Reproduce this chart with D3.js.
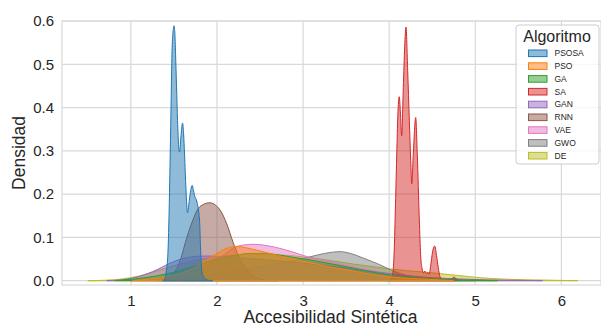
<!DOCTYPE html>
<html>
<head>
<meta charset="utf-8">
<script src="https://cdn.jsdelivr.net/npm/d3@7"></script>
<style>
  html, body { margin: 0; padding: 0; background: #fff; }
  svg { display: block; font-family: "Liberation Sans", Arial, sans-serif; }
</style>
</head>
<body>
<svg id="chart" width="601" height="327"></svg>
<script>
// ---- Data ----
const algorithms = ["PSOSA", "PSO", "GA", "SA", "GAN", "RNN", "VAE", "GWO", "DE"];
const palette = ["#1f77b4", "#ff7f0e", "#2ca02c", "#d62728", "#9467bd", "#8c564b", "#e377c2", "#7f7f7f", "#bcbd22"];
const xTicks = [1, 2, 3, 4, 5, 6];
const yTicks = [0.0, 0.1, 0.2, 0.3, 0.4, 0.5, 0.6];

const PSOSA = [[1.37,0],[1.39,0.002],[1.41,0.02],[1.43,0.063],[1.446,0.178],[1.457,0.293],[1.468,0.42],[1.477,0.523],[1.49,0.575],[1.50,0.589],[1.51,0.575],[1.519,0.523],[1.53,0.45],[1.542,0.37],[1.555,0.31],[1.565,0.297],[1.58,0.33],[1.60,0.364],[1.612,0.34],[1.623,0.293],[1.64,0.21],[1.658,0.157],[1.675,0.18],[1.689,0.201],[1.712,0.22],[1.725,0.21],[1.739,0.197],[1.767,0.182],[1.797,0.14],[1.81,0.07],[1.825,0.02],[1.86,0.005],[1.9,0.001],[1.95,0]];
const PSO = [[1.02,0],[1.2,0.003],[1.4,0.008],[1.6,0.018],[1.75,0.032],[1.88,0.048],[2.0,0.063],[2.115,0.075],[2.23,0.079],[2.385,0.074],[2.55,0.066],[2.73,0.057],[2.95,0.047],[3.12,0.040],[3.3,0.032],[3.51,0.025],[3.75,0.016],[4.01,0.009],[4.25,0.005],[4.47,0.003],[4.75,0]];
const GA = [[0.82,0],[1.0,0.003],[1.2,0.008],[1.4,0.015],[1.61,0.025],[1.84,0.040],[2.0,0.050],[2.2,0.058],[2.385,0.063],[2.55,0.063],[2.73,0.059],[2.95,0.052],[3.08,0.048],[3.3,0.040],[3.51,0.032],[3.75,0.022],[4.01,0.013],[4.2,0.009],[4.36,0.006],[4.6,0.004],[4.8,0.002],[5.0,0.001],[5.26,0]];
const SA = [[3.99,0],[4.02,0.002],[4.04,0.012],[4.06,0.078],[4.075,0.19],[4.088,0.293],[4.1,0.38],[4.117,0.425],[4.13,0.39],[4.145,0.335],[4.164,0.446],[4.18,0.54],[4.195,0.586],[4.215,0.485],[4.234,0.37],[4.25,0.278],[4.262,0.224],[4.28,0.293],[4.308,0.377],[4.326,0.293],[4.35,0.14],[4.365,0.06],[4.38,0.03],[4.40,0.018],[4.415,0.022],[4.43,0.016],[4.45,0.019],[4.465,0.015],[4.48,0.032],[4.505,0.068],[4.528,0.080],[4.55,0.058],[4.57,0.03],[4.59,0.009],[4.62,0.002],[4.68,0.001],[4.72,0.003],[4.755,0.008],[4.785,0.003],[4.82,0]];
const GAN = [[0.72,0],[0.9,0.002],[1.1,0.010],[1.3,0.025],[1.45,0.040],[1.6,0.051],[1.75,0.056],[1.9,0.057],[2.1,0.055],[2.4,0.051],[2.7,0.046],[3.0,0.040],[3.3,0.034],[3.6,0.027],[3.9,0.019],[4.2,0.012],[4.5,0.007],[4.8,0.004],[5.1,0.002],[5.4,0.001],[5.78,0]];
const RNN = [[1.35,0],[1.45,0.010],[1.5,0.018],[1.57,0.045],[1.65,0.100],[1.72,0.140],[1.77,0.163],[1.83,0.175],[1.92,0.180],[1.98,0.175],[2.04,0.162],[2.11,0.133],[2.19,0.087],[2.27,0.048],[2.35,0.025],[2.44,0.009],[2.58,0.001],[2.7,0]];
const VAE = [[1.0,0],[1.3,0.004],[1.6,0.015],[1.85,0.033],[2.05,0.055],[2.23,0.079],[2.42,0.084],[2.66,0.078],[2.85,0.068],[3.04,0.056],[3.2,0.048],[3.4,0.040],[3.7,0.027],[4.0,0.016],[4.3,0.008],[4.6,0.003],[4.9,0.001],[5.2,0]];
const GWO = [[1.3,0],[1.6,0.004],[1.9,0.012],[2.2,0.022],[2.5,0.032],[2.8,0.043],[3.08,0.055],[3.25,0.063],[3.43,0.067],[3.55,0.063],[3.7,0.052],[3.89,0.037],[4.05,0.022],[4.2,0.012],[4.4,0.005],[4.7,0.001],[5.0,0]];
const DE = [[0.50,0],[0.7,0.001],[0.9,0.004],[1.1,0.011],[1.25,0.019],[1.4,0.029],[1.6,0.040],[1.8,0.049],[2.0,0.055],[2.2,0.059],[2.45,0.061],[2.7,0.060],[3.0,0.055],[3.3,0.047],[3.6,0.038],[3.9,0.030],[4.2,0.023],[4.4,0.020],[4.6,0.016],[4.8,0.012],[5.05,0.007],[5.3,0.004],[5.6,0.002],[5.9,0.001],[6.19,0]];

const seriesData = { PSOSA, PSO, GA, SA, GAN, RNN, VAE, GWO, DE };

// ---- Layout ----
const svg = d3.select("#chart");
const margin = { left: 62, right: 601, top: 21, bottom: 285 };
const x = d3.scaleLinear().domain([0.2, 6.46]).range([margin.left, margin.right]);
const y = d3.scaleLinear().domain([-0.01, 0.6]).range([margin.bottom, margin.top]);
const textColor = "#262626";
const gridColor = "#d9d9d9";

// grid
const g = svg.append("g");
g.selectAll("line.hg").data(yTicks).join("line")
  .attr("x1", margin.left).attr("x2", margin.right)
  .attr("y1", d => y(d)).attr("y2", d => y(d))
  .attr("stroke", gridColor).attr("stroke-width", 1.2);
g.selectAll("line.vg").data(xTicks).join("line")
  .attr("y1", margin.top).attr("y2", margin.bottom)
  .attr("x1", d => x(d)).attr("x2", d => x(d))
  .attr("stroke", gridColor).attr("stroke-width", 1.2);
// frame
svg.append("rect")
  .attr("x", margin.left).attr("y", margin.top)
  .attr("width", margin.right - margin.left).attr("height", margin.bottom - margin.top)
  .attr("fill", "none").attr("stroke", gridColor).attr("stroke-width", 1.2);

// areas
const area = d3.area()
  .x(d => x(d[0])).y0(y(0)).y1(d => y(d[1]))
  .curve(d3.curveMonotoneX);
const drawOrder = algorithms.slice().reverse();
const areas = svg.append("g");
drawOrder.forEach(name => {
  const i = algorithms.indexOf(name);
  areas.append("path")
    .datum(seriesData[name])
    .attr("d", area)
    .attr("fill", palette[i]).attr("fill-opacity", 0.5)
    .attr("stroke", palette[i]).attr("stroke-width", 1)
    .attr("stroke-linejoin", "round");
});

// axes (tick labels only, no tick marks)
const xAxis = d3.axisBottom(x).tickValues(xTicks).tickSize(0).tickPadding(10).tickFormat(d3.format("d"));
const xg = svg.append("g").attr("transform", `translate(0,${margin.bottom})`).call(xAxis);
xg.select(".domain").remove();
xg.selectAll("text").attr("font-size", 15).attr("fill", textColor)
  .attr("font-family", "'Liberation Sans', Arial, sans-serif");

const yAxis = d3.axisLeft(y).tickValues(yTicks).tickSize(0).tickPadding(8).tickFormat(d3.format(".1f"));
const yg = svg.append("g").attr("transform", `translate(${margin.left},0)`).call(yAxis);
yg.select(".domain").remove();
yg.selectAll("text").attr("font-size", 15).attr("fill", textColor)
  .attr("font-family", "'Liberation Sans', Arial, sans-serif");

// axis titles
svg.append("text")
  .attr("x", (margin.left + 601) / 2 - 1).attr("y", 323)
  .attr("text-anchor", "middle").attr("font-size", 17.5).attr("fill", textColor)
  .text("Accesibilidad Sintética");
svg.append("text")
  .attr("transform", `translate(25,${(margin.top + margin.bottom) / 2}) rotate(-90)`)
  .attr("text-anchor", "middle").attr("font-size", 17.5).attr("fill", textColor)
  .text("Densidad");

// legend
const lg = svg.append("g");
lg.append("rect")
  .attr("x", 516).attr("y", 25).attr("width", 83).attr("height", 139)
  .attr("rx", 3).attr("fill", "#fff").attr("fill-opacity", 0.8)
  .attr("stroke", "#cccccc").attr("stroke-width", 1);
lg.append("text")
  .attr("x", 557).attr("y", 41.5).attr("text-anchor", "middle")
  .attr("font-size", 16).attr("fill", textColor).text("Algoritmo");
const rowY = d3.scalePoint().domain(algorithms).range([53.3, 155.7]);
algorithms.forEach((name, i) => {
  lg.append("rect")
    .attr("x", 528.5).attr("y", rowY(name) - 3.3).attr("width", 18.5).attr("height", 6.6)
    .attr("fill", palette[i]).attr("fill-opacity", 0.5)
    .attr("stroke", palette[i]).attr("stroke-width", 1);
  lg.append("text")
    .attr("x", 554.5).attr("y", rowY(name)).attr("dy", "0.35em")
    .attr("font-size", 8.5).attr("fill", textColor).text(name);
});
</script>
</body>
</html>
